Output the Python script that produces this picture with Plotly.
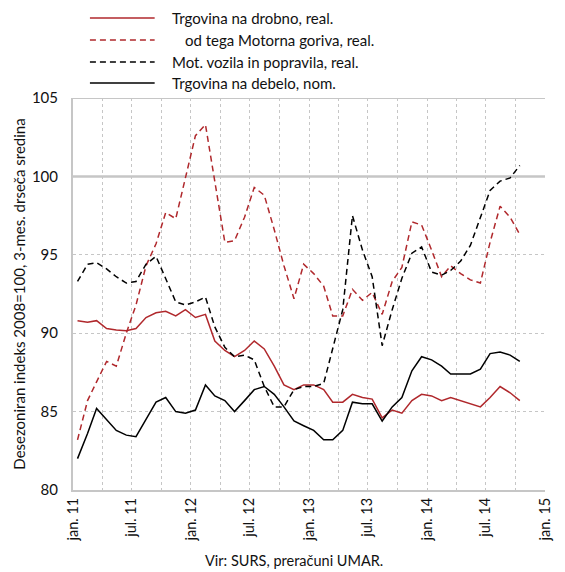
import pandas as pd
import plotly.graph_objects as go

# Monthly data, Jan 2011 - Oct 2014 (points at mid-month)
months = pd.date_range("2011-01-01", periods=46, freq="MS") + pd.Timedelta(days=14)

trg_drobno = [90.8, 90.7, 90.8, 90.3, 90.2, 90.15, 90.3, 91.0, 91.3, 91.4, 91.1, 91.5,
              91.0, 91.2, 89.5, 88.9, 88.5, 88.9, 89.5, 89.0, 87.9, 86.7, 86.4, 86.7,
              86.7, 86.4, 85.6, 85.6, 86.1, 85.9, 85.8, 84.6, 85.1, 84.9, 85.7, 86.1,
              86.0, 85.7, 85.9, 85.7, 85.5, 85.3, 85.9, 86.6, 86.2, 85.7]

motorna_goriva = [83.2, 85.7, 86.9, 88.2, 87.9, 90.0, 91.8, 94.3, 95.7, 97.7, 97.3, 100.0,
                  102.6, 103.3, 99.6, 95.8, 95.9, 97.4, 99.3, 98.8, 96.6, 94.3, 92.2, 94.4,
                  93.8, 93.0, 91.1, 91.1, 92.8, 92.1, 92.6, 91.2, 93.3, 94.2, 97.1, 96.9,
                  95.3, 93.6, 94.3, 93.8, 93.4, 93.2, 95.8, 98.1, 97.4, 96.3]

mot_vozila = [93.3, 94.4, 94.5, 94.1, 93.6, 93.2, 93.3, 94.4, 94.9, 93.5, 92.0, 91.8,
              92.0, 92.3, 90.4, 89.1, 88.5, 88.6, 88.3, 86.6, 85.3, 85.3, 86.4, 86.6,
              86.6, 86.8, 89.0, 91.5, 97.5, 95.3, 93.6, 89.2, 91.5, 93.5, 95.1, 95.5,
              93.9, 93.7, 94.0, 94.6, 95.6, 97.4, 99.1, 99.7, 99.9, 100.7]

trg_debelo = [82.0, 83.6, 85.2, 84.5, 83.8, 83.5, 83.4, 84.5, 85.6, 85.9, 85.0, 84.9,
              85.1, 86.7, 86.0, 85.7, 85.0, 85.7, 86.4, 86.6, 86.1, 85.3, 84.4, 84.1,
              83.8, 83.2, 83.2, 83.8, 85.6, 85.5, 85.5, 84.4, 85.3, 85.9, 87.6, 88.5,
              88.3, 87.9, 87.4, 87.4, 87.4, 87.7, 88.7, 88.8, 88.6, 88.2]

series_names = ["Trgovina na drobno, real.",
                "od tega Motorna goriva, real.",
                "Mot. vozila in popravila, real.",
                "Trgovina na debelo, nom."]

tick_dates = ["2011-01-01", "2011-04-01", "2011-07-01", "2011-10-01",
              "2012-01-01", "2012-04-01", "2012-07-01", "2012-10-01",
              "2013-01-01", "2013-04-01", "2013-07-01", "2013-10-01",
              "2014-01-01", "2014-04-01", "2014-07-01", "2014-10-01",
              "2015-01-01"]
tick_labels = ["jan. 11", "", "jul. 11", "", "jan. 12", "", "jul. 12", "",
               "jan. 13", "", "jul. 13", "", "jan. 14", "", "jul. 14", "", "jan. 15"]

y_title = "Desezoniran indeks 2008=100, 3-mes. drseča sredina"
source = "Vir: SURS, preračuni UMAR."

RED = "#B0282C"
BLACK = "#000000"
GRID = "#c6c6c6"
FONT = "Lato"

styles = [
    dict(color=RED, width=1.5, dash="solid"),
    dict(color=RED, width=1.5, dash="6px,4px"),
    dict(color=BLACK, width=1.5, dash="6px,4px"),
    dict(color=BLACK, width=1.5, dash="solid"),
]
data = [trg_drobno, motorna_goriva, mot_vozila, trg_debelo]

fig = go.Figure()
for name, vals, st in zip(series_names, data, styles):
    fig.add_trace(go.Scatter(x=months, y=vals, mode="lines", name=name,
                             line=st, showlegend=False))

L, R, T, B = 73, 547, 98, 490
W, H = 565, 572


def px(xp):
    return (xp - L) / (R - L)


def py(yp):
    return (B - yp) / (B - T)


fig.update_layout(
    width=W, height=H,
    margin=dict(l=L, r=W - R, t=T, b=H - B),
    plot_bgcolor="white", paper_bgcolor="white",
    font=dict(family=FONT, size=15, color="#111"),
    xaxis=dict(
        type="date",
        range=["2011-01-01", "2015-01-01"],
        tickmode="array", tickvals=tick_dates, ticktext=tick_labels,
        tickangle=-90, tickfont=dict(size=14.5),
        showgrid=True, gridcolor=GRID, griddash="dot", gridwidth=1,
        showline=True, linecolor=GRID, linewidth=2,
        ticks="", zeroline=False,
    ),
    yaxis=dict(
        range=[80, 105], tick0=80, dtick=5,
        tickfont=dict(size=15),
        showgrid=True, gridcolor=GRID, griddash="dot", gridwidth=1,
        showline=True, linecolor=GRID, linewidth=2,
        ticks="outside", ticklen=10, tickcolor="rgba(0,0,0,0)",
        zeroline=False,
        title=dict(text=y_title, font=dict(size=15), standoff=3),
    ),
)

# solid reference lines at 100 and at the top of the plot
for yv in (100, 105):
    fig.add_shape(type="line", xref="paper", yref="y", x0=0, x1=1, y0=yv, y1=yv,
                  line=dict(color=GRID, width=2.5 if yv == 100 else 2), layer="below")

# manual legend
leg_y = [18, 40, 62, 83]
text_x = [170, 183, 170, 170]
for name, st, yy, tx in zip(series_names, styles, leg_y, text_x):
    fig.add_shape(type="line", xref="paper", yref="paper",
                  x0=px(90), x1=px(155), y0=py(yy), y1=py(yy),
                  line=st)
    fig.add_annotation(text=name, xref="paper", yref="paper",
                       x=px(tx), y=py(yy), xanchor="left", yanchor="middle",
                       showarrow=False, font=dict(size=15))

fig.add_annotation(text=source, xref="paper", yref="paper",
                   x=px(295), y=py(560), xanchor="center", yanchor="middle",
                   showarrow=False, font=dict(size=14.5))

fig.write_html("out.html", config={"displayModeBar": False},
               post_script="document.body.style.margin='0';")
